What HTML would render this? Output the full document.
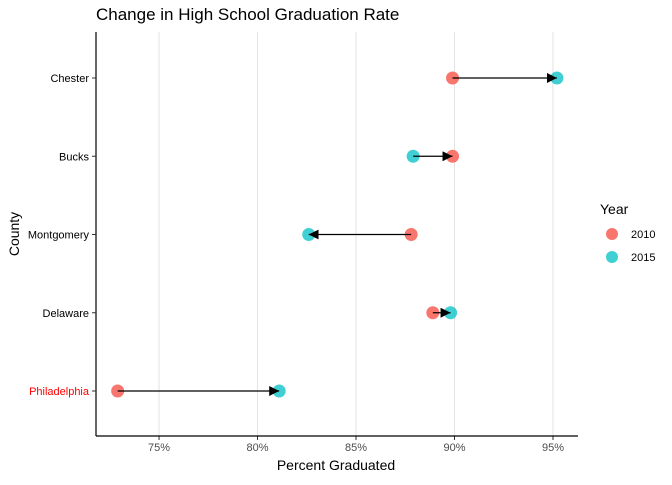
<!DOCTYPE html>
<html><head><meta charset="utf-8"><style>
body{margin:0;background:#fff;font-family:"Liberation Sans",Arial,sans-serif;}
</style></head><body>
<svg id="chart" width="672" height="480" viewBox="0 0 672 480" xmlns="http://www.w3.org/2000/svg">
<defs><marker id="ah" viewBox="0 0 10 10" refX="10" refY="5" markerWidth="10" markerHeight="10" markerUnits="userSpaceOnUse" orient="auto"><path d="M0,0 L10,5 L0,10 z" fill="#000"/></marker></defs>
<text x="96" y="20" font-size="17" fill="#000">Change in High School Graduation Rate</text>
<g id="grid"></g><g id="marks"></g><g id="axes"></g>
<text x="336" y="470" font-size="14" text-anchor="middle">Percent Graduated</text>
<text x="19" y="234" font-size="14" text-anchor="middle" transform="rotate(-90 19 234)">County</text>
<g>
<text x="600" y="214" font-size="14">Year</text>
<circle cx="612" cy="234" r="6" fill="#F8766D"/>
<text x="631" y="238" font-size="11">2010</text>
<circle cx="612" cy="257" r="6" fill="#00BFC4" opacity="0.75"/>
<text x="631" y="261" font-size="11">2015</text>
</g>
</svg>
<script>
const counties=["Philadelphia","Delaware","Montgomery","Bucks","Chester"];
const rate2010=[72.9,88.9,87.8,89.9,89.9];
const rate2015=[81.1,89.8,82.6,87.9,95.2];
const arrowStart=[72.9,88.9,87.8,87.9,89.9];
const arrowEnd=[81.1,89.8,82.6,89.9,95.2];
const xTicks=[75,80,85,90,95];
const xTickLabels=["75%","80%","85%","90%","95%"];
const NS="http://www.w3.org/2000/svg";
const L=96,R=578,T=32,B=436,xmin=71.8,xmax=96.27;
const x=v=>L+(v-xmin)/(xmax-xmin)*(R-L);
const y=i=>391-i*78.25;
function mk(t,a,p){const e=document.createElementNS(NS,t);for(const k in a)e.setAttribute(k,a[k]);p.appendChild(e);return e;}
const g=document.getElementById('grid'),m=document.getElementById('marks'),ax=document.getElementById('axes');
xTicks.forEach((v,i)=>{
 const ln=mk('line',{x1:x(v),x2:x(v),y1:T,y2:B,stroke:'#e3e3e3','stroke-width':1},g);
 
 
 const tk=mk('line',{x1:x(v),x2:x(v),y1:B,y2:B+4,stroke:'#333'},ax);
 
 
 const t=mk('text',{x:x(v),y:B+15,'font-size':11,fill:'#4d4d4d','text-anchor':'middle'},ax);
 t.textContent=xTickLabels[i];
 
 
});
mk('line',{x1:L,x2:L,y1:T,y2:B,stroke:'#000','stroke-width':1.2},ax);
mk('line',{x1:L,x2:R,y1:B,y2:B,stroke:'#000','stroke-width':1.2},ax);
counties.forEach((c,i)=>{
 const yy=y(i);
 const tk=mk('line',{x1:L-4,x2:L,y1:yy,y2:yy,stroke:'#333'},ax);
 
 
 const t=mk('text',{x:L-7,y:yy+4,'font-size':11,fill:c==="Philadelphia"?'#ff0000':'#000','text-anchor':'end'},ax);
 t.textContent=c;
 
 
 const a=mk('circle',{cx:x(rate2010[i]),cy:yy,r:6.5,fill:'#F8766D'},m);
 
 
 const b=mk('circle',{cx:x(rate2015[i]),cy:yy,r:6.5,fill:'#00BFC4',opacity:0.75},m);
 
 
});
counties.forEach((c,i)=>{
 const yy=y(i);
 const ar=mk('line',{x1:x(arrowStart[i]),x2:x(arrowEnd[i]),y1:yy,y2:yy,stroke:'#000','stroke-width':1.2,'marker-end':'url(#ah)'},m);
 
 
});
</script>
</body></html>
